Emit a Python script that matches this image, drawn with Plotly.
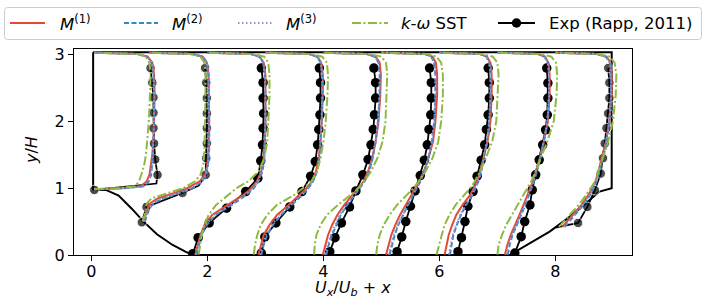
import plotly.graph_objects as go

# ---------------- data (plot abscissa = U_x/U_b + x) ----------------
P1_Y = [0.985, 1.0, 1.03, 1.1, 1.2, 1.35, 1.5, 1.75, 2.0, 2.4, 2.7, 2.88, 2.97, 3.01, 3.03]
P1_M1 = [0.05, 0.5, 0.85, 0.95, 1.0, 1.03, 1.05, 1.07, 1.08, 1.09, 1.08, 1.05, 0.97, 0.8, 0.05]
P1_M2 = [0.05, 0.55, 0.9, 0.99, 1.03, 1.05, 1.06, 1.07, 1.08, 1.08, 1.07, 1.04, 0.96, 0.8, 0.05]
P1_M3 = [0.05, 0.55, 0.89, 0.98, 1.02, 1.05, 1.06, 1.07, 1.08, 1.08, 1.07, 1.04, 0.96, 0.8, 0.05]
P1_SST = [0.05, 0.45, 0.75, 0.82, 0.86, 0.91, 0.94, 0.97, 0.99, 1.01, 1.02, 1.0, 0.94, 0.8, 0.05]

P2_Y = [0.5, 0.6, 0.7, 0.78, 0.85, 0.92, 1.0, 1.1, 1.2, 1.35, 1.6, 2.0, 2.4, 2.7, 2.88, 2.97, 3.01, 3.03]
P2_M1 = [0.9, 0.94, 0.97, 1.02, 1.15, 1.4, 1.65, 1.86, 1.96, 2.0, 2.02, 2.03, 2.03, 2.02, 1.99, 1.92, 1.75, 1.0]
P2_M2 = [0.92, 0.96, 1.0, 1.08, 1.25, 1.5, 1.74, 1.91, 1.98, 2.01, 2.03, 2.03, 2.03, 2.02, 1.99, 1.92, 1.75, 1.0]
P2_M3 = [0.91, 0.95, 0.99, 1.06, 1.22, 1.47, 1.72, 1.9, 1.97, 2.01, 2.03, 2.03, 2.03, 2.02, 1.99, 1.92, 1.75, 1.0]
P2_SST = [0.88, 0.92, 0.94, 0.96, 1.04, 1.28, 1.58, 1.78, 1.88, 1.93, 1.95, 1.96, 1.97, 1.97, 1.95, 1.88, 1.7, 1.0]

PF_Y = [0.005, 0.15, 0.3, 0.45, 0.6, 0.75, 0.9, 1.0, 1.1, 1.25, 1.45, 1.7, 2.0, 2.4, 2.7, 2.88, 2.97, 3.01, 3.03]
P3_M1 = [1.79, 1.83, 1.88, 1.95, 2.08, 2.35, 2.62, 2.76, 2.85, 2.93, 2.97, 2.99, 3.0, 3.0, 3.0, 2.97, 2.9, 2.75, 2.0]
P3_M2 = [1.81, 1.85, 1.9, 1.99, 2.14, 2.42, 2.67, 2.8, 2.88, 2.95, 2.98, 2.99, 3.0, 3.0, 2.99, 2.96, 2.9, 2.75, 2.0]
P3_M3 = [1.8, 1.84, 1.89, 1.97, 2.12, 2.4, 2.66, 2.79, 2.87, 2.94, 2.98, 2.99, 3.0, 3.0, 2.99, 2.96, 2.9, 2.75, 2.0]
P3_SST = [1.85, 1.87, 1.9, 1.95, 2.02, 2.15, 2.35, 2.5, 2.7, 2.88, 2.98, 3.03, 3.05, 3.07, 3.07, 3.05, 2.98, 2.8, 2.0]

P4_M1 = [2.88, 2.92, 2.97, 3.07, 3.2, 3.4, 3.59, 3.71, 3.8, 3.87, 3.92, 3.95, 3.97, 3.99, 3.99, 3.96, 3.9, 3.75, 3.0]
P4_M2 = [2.93, 2.97, 3.03, 3.13, 3.27, 3.46, 3.64, 3.74, 3.82, 3.89, 3.93, 3.95, 3.97, 3.98, 3.98, 3.95, 3.89, 3.75, 3.0]
P4_M3 = [2.91, 2.95, 3.01, 3.11, 3.25, 3.44, 3.62, 3.73, 3.81, 3.88, 3.93, 3.95, 3.97, 3.98, 3.98, 3.95, 3.89, 3.75, 3.0]
P4_SST = [2.8, 2.82, 2.86, 2.92, 3.03, 3.2, 3.5, 3.65, 3.79, 3.89, 3.95, 4.0, 4.04, 4.07, 4.08, 4.06, 3.98, 3.8, 3.0]

P5_M1 = [3.99, 4.03, 4.08, 4.15, 4.24, 4.36, 4.5, 4.6, 4.69, 4.77, 4.84, 4.9, 4.95, 4.98, 4.99, 4.97, 4.9, 4.75, 4.0]
P5_M2 = [4.05, 4.09, 4.15, 4.22, 4.3, 4.41, 4.54, 4.63, 4.71, 4.79, 4.85, 4.9, 4.94, 4.97, 4.97, 4.95, 4.89, 4.75, 4.0]
P5_M3 = [4.03, 4.07, 4.13, 4.2, 4.28, 4.4, 4.53, 4.62, 4.7, 4.78, 4.85, 4.9, 4.94, 4.97, 4.97, 4.95, 4.89, 4.75, 4.0]
P5_SST = [3.84, 3.85, 3.88, 3.95, 4.06, 4.25, 4.47, 4.6, 4.7, 4.82, 4.93, 5.02, 5.07, 5.09, 5.1, 5.08, 5.0, 4.8, 4.0]

P6_M1 = [5.08, 5.12, 5.17, 5.24, 5.32, 5.42, 5.52, 5.58, 5.65, 5.73, 5.81, 5.89, 5.93, 5.96, 5.96, 5.94, 5.88, 5.75, 5.0]
P6_M2 = [5.14, 5.18, 5.23, 5.29, 5.37, 5.46, 5.55, 5.61, 5.67, 5.74, 5.81, 5.87, 5.91, 5.93, 5.93, 5.91, 5.86, 5.75, 5.0]
P6_M3 = [5.12, 5.16, 5.21, 5.28, 5.36, 5.45, 5.54, 5.6, 5.66, 5.74, 5.81, 5.87, 5.91, 5.93, 5.93, 5.91, 5.86, 5.75, 5.0]
P6_SST = [4.91, 4.93, 4.97, 5.04, 5.14, 5.27, 5.44, 5.55, 5.64, 5.76, 5.88, 5.98, 6.03, 6.06, 6.06, 6.03, 5.95, 5.8, 5.0]

P7_M1 = [6.09, 6.12, 6.16, 6.22, 6.29, 6.4, 6.53, 6.59, 6.65, 6.7, 6.76, 6.83, 6.88, 6.9, 6.9, 6.88, 6.82, 6.7, 6.0]
P7_M2 = [6.18, 6.21, 6.24, 6.3, 6.37, 6.46, 6.57, 6.62, 6.67, 6.72, 6.77, 6.82, 6.86, 6.88, 6.88, 6.86, 6.81, 6.7, 6.0]
P7_M3 = [6.16, 6.19, 6.23, 6.29, 6.36, 6.45, 6.56, 6.61, 6.66, 6.72, 6.77, 6.82, 6.86, 6.88, 6.88, 6.86, 6.81, 6.7, 6.0]
P7_SST = [5.95, 5.99, 6.04, 6.09, 6.17, 6.28, 6.44, 6.53, 6.61, 6.7, 6.8, 6.91, 6.98, 7.01, 7.02, 7.0, 6.92, 6.75, 6.0]

P8_M1 = [7.13, 7.17, 7.23, 7.31, 7.38, 7.45, 7.52, 7.57, 7.61, 7.66, 7.73, 7.8, 7.87, 7.9, 7.9, 7.88, 7.82, 7.7, 7.0]
P8_M2 = [7.18, 7.21, 7.26, 7.34, 7.41, 7.48, 7.55, 7.59, 7.63, 7.68, 7.74, 7.8, 7.86, 7.89, 7.89, 7.87, 7.81, 7.7, 7.0]
P8_M3 = [7.16, 7.19, 7.25, 7.33, 7.4, 7.47, 7.54, 7.58, 7.62, 7.67, 7.74, 7.8, 7.86, 7.89, 7.89, 7.87, 7.81, 7.7, 7.0]
P8_SST = [7.0, 7.02, 7.08, 7.15, 7.25, 7.35, 7.45, 7.52, 7.58, 7.66, 7.75, 7.86, 7.97, 8.02, 8.03, 8.01, 7.93, 7.75, 7.0]

P9_Y = [0.42, 0.5, 0.6, 0.75, 0.9, 1.0, 1.1, 1.25, 1.45, 1.7, 2.0, 2.4, 2.7, 2.88, 2.97, 3.01, 3.03]
P9_M1 = [8.12, 8.2, 8.31, 8.45, 8.57, 8.63, 8.69, 8.74, 8.8, 8.87, 8.93, 8.97, 8.97, 8.95, 8.88, 8.72, 8.0]
P9_M2 = [8.16, 8.24, 8.34, 8.48, 8.6, 8.66, 8.71, 8.76, 8.82, 8.88, 8.93, 8.96, 8.96, 8.94, 8.87, 8.72, 8.0]
P9_M3 = [8.15, 8.23, 8.33, 8.47, 8.59, 8.65, 8.7, 8.75, 8.81, 8.88, 8.93, 8.96, 8.96, 8.94, 8.87, 8.72, 8.0]
P9_SST = [8.06, 8.14, 8.24, 8.4, 8.53, 8.61, 8.68, 8.74, 8.82, 8.91, 8.99, 9.04, 9.05, 9.02, 8.94, 8.75, 8.0]

# Experimental data (Rapp, 2011); *_MK = 1 where a marker is drawn
EXP_P1_X = [0.05, 1.12, 1.14, 1.1, 1.08, 1.07, 1.07, 1.07, 1.05, 1.02]
EXP_P1_Y = [0.975, 1.07, 1.2, 1.43, 1.67, 1.9, 2.13, 2.36, 2.58, 2.8]
EXP_P1_MK = [1, 0, 1, 1, 1, 1, 1, 1, 1, 1]
EXP_P2_X = [0.87, 0.95, 1.57, 1.85, 1.97, 1.98, 1.99, 1.99, 1.99, 1.99, 1.98, 1.96]
EXP_P2_Y = [0.49, 0.72, 0.93, 1.04, 1.2, 1.45, 1.67, 1.9, 2.12, 2.35, 2.58, 2.8]
EXP_P2_MK = [1, 1, 1, 0, 1, 1, 1, 1, 1, 1, 1, 1]
EXP_P3_X = [1.75, 1.84, 2.03, 2.33, 2.66, 2.87, 2.92, 2.95, 2.96, 2.97, 2.96, 2.96, 2.93]
EXP_P3_Y = [0.02, 0.26, 0.48, 0.7, 0.95, 1.15, 1.41, 1.65, 1.9, 2.12, 2.35, 2.58, 2.8]
EXP_P4_X = [2.93, 2.99, 3.18, 3.42, 3.63, 3.78, 3.86, 3.9, 3.92, 3.94, 3.95, 3.95, 3.93]
EXP_P4_Y = [0.03, 0.27, 0.48, 0.72, 0.95, 1.18, 1.4, 1.65, 1.88, 2.1, 2.35, 2.58, 2.8]
EXP_P5_X = [4.11, 4.2, 4.31, 4.45, 4.56, 4.68, 4.77, 4.82, 4.86, 4.88, 4.9, 4.9, 4.87]
EXP_P5_Y = [0.05, 0.26, 0.48, 0.72, 0.96, 1.2, 1.43, 1.65, 1.88, 2.1, 2.35, 2.58, 2.8]
EXP_P6_X = [5.27, 5.35, 5.42, 5.5, 5.58, 5.67, 5.74, 5.79, 5.82, 5.85, 5.86, 5.86, 5.83]
EXP_P6_Y = [0.05, 0.27, 0.5, 0.73, 0.96, 1.19, 1.42, 1.65, 1.88, 2.1, 2.35, 2.58, 2.8]
EXP_P7_X = [6.32, 6.38, 6.44, 6.49, 6.58, 6.65, 6.72, 6.78, 6.81, 6.84, 6.86, 6.86, 6.84]
EXP_P7_Y = [0.05, 0.26, 0.5, 0.73, 0.95, 1.18, 1.42, 1.65, 1.88, 2.1, 2.35, 2.58, 2.8]
EXP_P8_X = [7.3, 7.41, 7.47, 7.56, 7.6, 7.66, 7.72, 7.78, 7.83, 7.86, 7.87, 7.87, 7.85]
EXP_P8_Y = [0.03, 0.275, 0.5, 0.75, 0.975, 1.2, 1.425, 1.65, 1.875, 2.1, 2.35, 2.575, 2.8]
EXP_P9_X = [8.0, 8.39, 8.55, 8.68, 8.78, 8.82, 8.85, 8.88, 8.91, 8.93, 8.93, 8.91]
EXP_P9_Y = [0.41, 0.48, 0.72, 0.97, 1.22, 1.45, 1.67, 1.9, 2.12, 2.35, 2.58, 2.8]
EXP_P9_MK = [0, 1, 1, 1, 1, 1, 1, 1, 1, 1, 1, 1]

# Channel geometry (lower hill wall, walls)
HILL_LEFT_X = [0.03, 0.25, 0.47, 0.7, 0.9, 1.13, 1.4, 1.62, 1.75]
HILL_LEFT_Y = [0.98, 0.975, 0.89, 0.69, 0.5, 0.31, 0.15, 0.05, 0.0]
HILL_RIGHT_X = [7.21, 7.56, 7.9, 8.25, 8.59, 8.76, 8.97]
HILL_RIGHT_Y = [0.0, 0.175, 0.35, 0.575, 0.825, 0.95, 1.0]
TOP_WALL_Y = 3.035

X_TICKS = [0, 2, 4, 6, 8]
Y_TICKS = [0, 1, 2, 3]

SERIES_NAMES = ["<i>M</i><sup>(1)</sup>", "<i>M</i><sup>(2)</sup>", "<i>M</i><sup>(3)</sup>",
                "<i>k</i>-<i>ω</i> SST", "Exp (Rapp, 2011)"]

# ---------------- figure ----------------
FONT = "DejaVu Sans"
W, H = 706, 300
L, R, T, B = 74, 74, 49, 45
PW, PH = W - L - R, H - T - B


def px(xp):
    return (xp - L) / PW


def py(yp):
    return 1 - (yp - T) / PH


fig = go.Figure()

# geometry
gx = [HILL_LEFT_X[0]] + HILL_LEFT_X + HILL_RIGHT_X + [HILL_RIGHT_X[-1], HILL_LEFT_X[0]]
gy = [TOP_WALL_Y] + HILL_LEFT_Y + HILL_RIGHT_Y + [TOP_WALL_Y, TOP_WALL_Y]
fig.add_trace(go.Scatter(x=gx, y=gy, mode="lines", line=dict(color="black", width=2),
                         showlegend=False, hoverinfo="skip"))

# experiments
exp_sets = [
    (EXP_P1_X, EXP_P1_Y, EXP_P1_MK), (EXP_P2_X, EXP_P2_Y, EXP_P2_MK),
    (EXP_P3_X, EXP_P3_Y, None), (EXP_P4_X, EXP_P4_Y, None), (EXP_P5_X, EXP_P5_Y, None),
    (EXP_P6_X, EXP_P6_Y, None), (EXP_P7_X, EXP_P7_Y, None), (EXP_P8_X, EXP_P8_Y, None),
    (EXP_P9_X, EXP_P9_Y, EXP_P9_MK),
]
MS = 9.5
for i, (ex, ey, mk) in enumerate(exp_sets):
    size = MS if mk is None else [MS * m for m in mk]
    fig.add_trace(go.Scatter(
        x=ex, y=ey, mode="lines+markers",
        line=dict(color="black", width=1.8),
        marker=dict(color="black", size=size, symbol="circle"),
        name=SERIES_NAMES[4], showlegend=False))

profiles = [
    (P1_Y, P1_M1, P1_M2, P1_M3, P1_SST),
    (P2_Y, P2_M1, P2_M2, P2_M3, P2_SST),
    (PF_Y, P3_M1, P3_M2, P3_M3, P3_SST),
    (PF_Y, P4_M1, P4_M2, P4_M3, P4_SST),
    (PF_Y, P5_M1, P5_M2, P5_M3, P5_SST),
    (PF_Y, P6_M1, P6_M2, P6_M3, P6_SST),
    (PF_Y, P7_M1, P7_M2, P7_M3, P7_SST),
    (PF_Y, P8_M1, P8_M2, P8_M3, P8_SST),
    (P9_Y, P9_M1, P9_M2, P9_M3, P9_SST),
]
styles = [
    ("#E24A33", "solid"),
    ("#348ABD", "5px,2.5px"),
    ("#988ED5", "1.5px,2.5px"),
    ("#8EBA42", "9px,2.5px,2px,2.5px"),
]
for s in range(4):
    color, dash = styles[s]
    for i, prof in enumerate(profiles):
        fig.add_trace(go.Scatter(
            x=prof[s + 1], y=prof[0], mode="lines",
            line=dict(color=color, width=2, dash=dash),
            name=SERIES_NAMES[s], showlegend=False))

# ---------------- legend (drawn as shapes + text) ----------------
shapes = []
annotations = []
bx0, bx1, by0, by1, rr = 4.5, 701.5, 7.5, 39.5, 3.0
rx, ry = rr / PW, rr / PH
X0, X1, Y0, Y1 = px(bx0), px(bx1), py(by1), py(by0)
path = (f"M {X0 + rx},{Y1} L {X1 - rx},{Y1} Q {X1},{Y1} {X1},{Y1 - ry} "
        f"L {X1},{Y0 + ry} Q {X1},{Y0} {X1 - rx},{Y0} L {X0 + rx},{Y0} "
        f"Q {X0},{Y0} {X0},{Y0 + ry} L {X0},{Y1 - ry} Q {X0},{Y1} {X0 + rx},{Y1} Z")
shapes.append(dict(type="path", xref="paper", yref="paper", path=path,
                   line=dict(color="#cccccc", width=1), fillcolor="white", layer="above"))

LEG_Y = 23
leg_lines = [(10, 45), (124, 158), (238, 272), (352, 388), (498, 535)]
leg_text_x = [58, 170, 284, 399, 547]
leg_styles = styles + [("black", "solid")]
for k in range(5):
    c, d = leg_styles[k]
    a, b = leg_lines[k]
    shapes.append(dict(type="line", xref="paper", yref="paper",
                       x0=px(a), x1=px(b), y0=py(LEG_Y), y1=py(LEG_Y),
                       line=dict(color=c, width=2 if k < 4 else 1.8, dash=d), layer="above"))
    annotations.append(dict(text=SERIES_NAMES[k], xref="paper", yref="paper",
                            x=px(leg_text_x[k]), y=py(LEG_Y), xanchor="left", yanchor="middle",
                            showarrow=False, font=dict(family=FONT, size=16.5, color="black")))
cxm = 516.5
shapes.append(dict(type="circle", xref="paper", yref="paper",
                   x0=px(cxm - 4.75), x1=px(cxm + 4.75), y0=py(LEG_Y + 4.75), y1=py(LEG_Y - 4.75),
                   line=dict(color="black", width=0), fillcolor="black", layer="above"))

# axis titles
annotations.append(dict(text="<i>U</i><sub><i>x</i></sub>/<i>U</i><sub><i>b</i></sub> + <i>x</i>",
                        xref="paper", yref="paper", x=px(353), y=py(288),
                        xanchor="center", yanchor="middle", showarrow=False,
                        font=dict(family=FONT, size=16, color="black")))
annotations.append(dict(text="<i>y</i>/<i>H</i>", xref="paper", yref="paper",
                        x=px(31), y=py(150), xanchor="center", yanchor="middle",
                        textangle=-90, showarrow=False,
                        font=dict(family=FONT, size=16, color="black")))

fig.update_layout(
    width=W, height=H,
    margin=dict(l=L, r=R, t=T, b=B, pad=0, autoexpand=False),
    paper_bgcolor="white", plot_bgcolor="white",
    font=dict(family=FONT, size=16, color="black"),
    showlegend=False,
    shapes=shapes, annotations=annotations,
    xaxis=dict(
        range=[-0.3, 9.32], tickvals=X_TICKS, ticks="outside", ticklen=5, tickwidth=1,
        tickcolor="black", showline=True, linecolor="black", linewidth=1, mirror=True,
        showgrid=False, zeroline=False, tickfont=dict(size=16), automargin=False,
        ticklabelstandoff=-3,
    ),
    yaxis=dict(
        range=[0, 3.085], tickvals=Y_TICKS, ticks="outside", ticklen=5, tickwidth=1,
        tickcolor="black", showline=True, linecolor="black", linewidth=1, mirror=True,
        showgrid=False, zeroline=False, tickfont=dict(size=16), automargin=False,
    ),
)

fig.write_html("out.html", config={"displayModeBar": False},
               post_script="document.body.style.margin='0';document.body.style.padding='0';")
